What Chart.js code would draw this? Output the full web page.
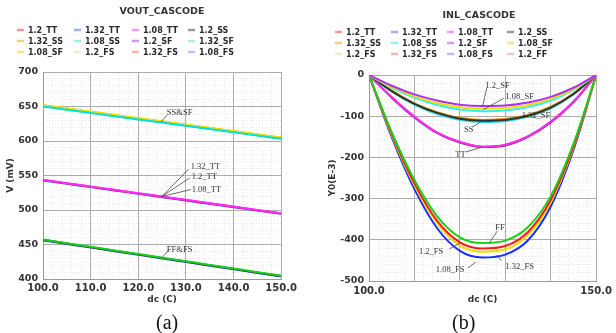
<!DOCTYPE html>
<html><head><meta charset="utf-8">
<script src="https://cdn.jsdelivr.net/npm/chart.js@4"></script>
<style>
html,body{margin:0;padding:0;background:#fff;}
#wrap{position:relative;width:616px;height:333px;overflow:hidden;background:#fff;}
#cA{position:absolute;left:0;top:0;}
#cB{position:absolute;left:300px;top:0;}
.cap{position:absolute;top:310px;font-family:"Liberation Serif","Times New Roman",serif;font-size:20px;color:#111;line-height:24px;}
</style></head>
<body><div id="wrap">
<canvas id="cA" width="300" height="333"></canvas>
<canvas id="cB" width="316" height="333"></canvas>
<div class="cap" style="left:156px">(a)</div>
<div class="cap" style="left:452px">(b)</div>
</div>
<script>
// ---------- (a) VOUT_CASCODE ----------
const voutTitle = 'VOUT_CASCODE';
const voutDc = [100,105,110,115,120,125,130,135,140,145,150];
const voutLegend = ['1.2_TT','1.32_TT','1.08_TT','1.2_SS','1.32_SS','1.08_SS','1.2_SF','1.32_SF','1.08_SF','1.2_FS','1.32_FS','1.08_FS'];
const vout_1_2_TT  = [543.5,538.6,533.8,528.9,524.1,519.2,514.4,509.5,504.7,499.8,495.0];
const vout_1_32_TT = [542.9,538.0,533.2,528.3,523.5,518.6,513.8,508.9,504.1,499.2,494.4];
const vout_1_08_TT = [543.8,538.9,534.1,529.2,524.4,519.5,514.7,509.8,505.0,500.1,495.3];
const vout_1_2_SS  = [651.0,646.3,641.6,636.9,632.2,627.6,622.9,618.2,613.5,608.8,604.0];
const vout_1_32_SS = [651.6,646.9,642.2,637.5,632.8,628.2,623.5,618.8,614.1,609.4,604.6];
const vout_1_08_SS = [650.1,645.4,640.7,636.0,631.3,626.7,622.0,617.3,612.6,607.9,603.1];
const vout_1_2_SF  = [651.3,646.6,641.9,637.2,632.5,627.9,623.2,618.5,613.8,609.1,604.3];
const vout_1_32_SF = [650.6,645.9,641.2,636.5,631.8,627.2,622.5,617.8,613.1,608.4,603.6];
const vout_1_08_SF = [652.0,647.3,642.6,637.9,633.2,628.6,623.9,619.2,614.5,609.8,605.0];
const vout_1_2_FS  = [457.2,451.9,446.7,441.4,436.2,430.9,425.7,420.4,415.2,409.9,404.7];
const vout_1_32_FS = [456.7,451.4,446.2,440.9,435.7,430.4,425.2,419.9,414.7,409.4,404.2];
const vout_1_08_FS = [456.1,450.8,445.6,440.3,435.1,429.8,424.6,419.3,414.1,408.8,403.6];
const voutYTicks = [400,450,500,550,600,650,700];

// ---------- (b) INL_CASCODE ----------
const inlTitle = 'INL_CASCODE';
const inlDc = [100,105,110,115,120,125,130,135,140,145,150];
const inlLegend = ['1.2_TT','1.32_TT','1.08_TT','1.2_SS','1.32_SS','1.08_SS','1.2_SF','1.08_SF','1.2_FS','1.32_FS','1.08_FS','1.2_FF'];
const inl_1_2_SF  = [0,-26,-47,-62,-72,-75,-74,-67,-53,-31,0];
const inl_1_08_SF = [0,-29,-52,-68,-78,-82,-80,-73,-58,-34,0];
const inl_1_08_SS = [0,-31,-55,-73,-84,-88,-86,-78,-62,-36,0];
const inl_1_32_SS = [0,-38,-69,-90,-104,-109,-107,-97,-77,-45,0];
const inl_1_2_SS  = [0,-39,-70,-92,-106,-111,-109,-99,-79,-46,0];
const inl_1_32_SF = [0,-40,-72,-95,-109,-114,-112,-101,-81,-47,0];
const inl_1_2_TT  = [0,-54,-102,-140,-163,-174,-170,-149,-114,-65,0];
const inl_1_32_TT = [0,-55,-103,-141,-164,-175,-171,-150,-115,-66,0];
const inl_1_08_TT = [0,-54,-101,-140,-162,-174,-169,-149,-113,-65,0];
const inl_1_2_FF  = [0,-139,-255,-343,-394,-408,-402,-369,-294,-167,0];
const inl_1_32_FS = [0,-143,-263,-354,-406,-421,-415,-381,-303,-173,0];
const inl_1_2_FS  = [0,-146,-268,-360,-414,-429,-423,-388,-309,-176,0];
const inl_1_08_FS = [0,-151,-277,-372,-427,-443,-436,-401,-319,-182,0];
const inlYTicks = [-500,-400,-300,-200,-100,0];

// ---------- styling ----------
const legendPale = {
  '1.2_TT':'#f39a9a','1.32_TT':'#a4acf0','1.08_TT':'#f49af0','1.2_SS':'#9a9a9a',
  '1.32_SS':'#f7cf7e','1.08_SS':'#98f2f2','1.2_SF':'#d29af0','1.32_SF':'#aef0d6',
  '1.08_SF':'#f2e68a','1.2_FS':'#ecefc4','1.32_FS':'#f6b4ac','1.08_FS':'#bcbcf6','1.2_FF':'#f6b8ee'
};
const TICKFONT = {family:'DejaVu Sans', weight:'bold', size:10};
const MAJOR = '#acacac', MINOR = '#e6e6e6';

function mk(x, y, label, color, w){
  return {label, data: x.map((v,i)=>({x:v, y:y[i]})), borderColor:color, backgroundColor:color,
    borderWidth:w||2, pointRadius:0, fill:false, cubicInterpolationMode:'monotone', xAxisID:'x', yAxisID:'y'};
}

function decoPlugin(cfg){
  return {
    id:'deco',
    afterDraw(chart){
      const ctx = chart.ctx, xs = chart.scales.x, ys = chart.scales.y;
      ctx.save();
      ctx.fillStyle = '#333';
      ctx.font = 'bold 9.5px "DejaVu Sans"';
      ctx.textAlign = 'center'; ctx.textBaseline = 'middle';
      ctx.fillText(cfg.title, cfg.titleX, cfg.titleY);
      ctx.font = 'bold 8px "DejaVu Sans"';
      ctx.textAlign = 'left';
      cfg.legend.forEach((name,i)=>{
        const c = i%4, r = Math.floor(i/4);
        const sx = cfg.lx[c], sy = cfg.ly + r*cfg.lh;
        ctx.strokeStyle = legendPale[name]; ctx.lineWidth = 2.5;
        ctx.beginPath(); ctx.moveTo(sx, sy); ctx.lineTo(sx+7, sy); ctx.stroke();
        ctx.fillStyle = '#2a2a2a';
        ctx.fillText(name, sx+11, sy+0.5);
      });
      ctx.font = '8.5px "Liberation Serif"';
      ctx.fillStyle = '#333'; ctx.strokeStyle = '#444'; ctx.lineWidth = 0.8;
      cfg.notes.forEach(n=>{
        ctx.fillText(n.t, xs.getPixelForValue(n.x), ys.getPixelForValue(n.y));
        (n.l||[]).forEach(s=>{
          ctx.beginPath();
          ctx.moveTo(xs.getPixelForValue(s[0]), ys.getPixelForValue(s[1]));
          ctx.lineTo(xs.getPixelForValue(s[2]), ys.getPixelForValue(s[3]));
          ctx.stroke();
        });
      });
      ctx.restore();
    }
  };
}

function scalesFor(o){
  return {
    xm:{type:'linear', min:100, max:150, position:'bottom', z:-1,
        ticks:{display:false, stepSize:2}, grid:{color:MINOR, drawTicks:false},
        border:{display:false, dash:[1,2]}, afterFit:s=>{s.height=0;}},
    ym:{type:'linear', min:o.ymin, max:o.ymax, position:'left', z:-1,
        ticks:{display:false, stepSize:o.yminor}, grid:{color:MINOR, drawTicks:false},
        border:{display:false, dash:[1,2]}, afterFit:s=>{s.width=0;}},
    x:{type:'linear', min:100, max:150, position:'bottom',
       afterBuildTicks:s=>{s.ticks=[100,110,120,130,140,150].map(v=>({value:v}));},
       ticks:{font:TICKFONT, color:'#333', padding:o.xpad, maxRotation:0, autoSkip:false,
              callback:o.xcb},
       grid:{color:MAJOR, drawTicks:false}, border:{display:true, color:'#999'},
       title:{display:true, text:'dc (C)', color:'#333', font:{family:'DejaVu Sans', weight:'bold', size:9}, padding:{top:0,bottom:4}},
       afterFit:s=>{s.height=o.xh;}},
    y:{type:'linear', min:o.ymin, max:o.ymax, position:'left',
       afterBuildTicks:s=>{s.ticks=o.yticks.map(v=>({value:v}));},
       ticks:{font:{family:'DejaVu Sans', weight:'bold', size:9.5}, color:'#333', padding:5},
       grid:{color:MAJOR, drawTicks:false}, border:{display:true, color:'#999'},
       title:{display:true, text:o.ytitle, color:'#333', font:{family:'DejaVu Sans', weight:'bold', size:9}, padding:{top:0,bottom:0}, align:o.yalign||'center'},
       afterFit:s=>{s.width=o.yw;}}
  };
}

// ---------- chart (a) ----------
const dsA = [
  mk(voutDc, vout_1_08_SS, '1.08_SS', '#00dede'),
  mk(voutDc, vout_1_08_SF, '1.08_SF', '#f2e000'),
  mk(voutDc, vout_1_32_SS, '1.32_SS', '#ffa000'),
  mk(voutDc, vout_1_2_SF,  '1.2_SF',  '#b030f0'),
  mk(voutDc, vout_1_32_SF, '1.32_SF', '#40e0b0'),
  mk(voutDc, vout_1_2_SS,  '1.2_SS',  '#303030'),
  mk(voutDc, vout_1_08_TT, '1.08_TT', '#ff2aff'),
  mk(voutDc, vout_1_2_TT,  '1.2_TT',  '#ff2020'),
  mk(voutDc, vout_1_32_TT, '1.32_TT', '#3040ff'),
  mk(voutDc, vout_1_2_FS,  '1.2_FS',  '#18d018'),
  mk(voutDc, vout_1_32_FS, '1.32_FS', '#303030'),
  mk(voutDc, vout_1_08_FS, '1.08_FS', '#3050ff')
];
new Chart(document.getElementById('cA'), {
  type:'line',
  data:{datasets:dsA},
  options:{
    responsive:false, animation:false, devicePixelRatio:1,
    layout:{padding:{left:5, right:17, top:72, bottom:24}},
    plugins:{legend:{display:false}, tooltip:{enabled:false}, title:{display:false}},
    scales:scalesFor({ymin:400, ymax:700, yminor:10, yticks:voutYTicks, ytitle:'V (mV)', yw:38, xh:30, xpad:3,
      xcb:v=>Number(v).toFixed(1)})
  },
  plugins:[decoPlugin({
    title:voutTitle, titleX:162, titleY:12,
    legend:voutLegend, lx:[17,74,132,188], ly:30, lh:11,
    notes:[
      {t:'SS&SF', x:126.0, y:640.5, l:[[124.8,627.8,126.0,637.5]]},
      {t:'1.32_TT', x:131.0, y:562.5, l:[[125.0,519.8,130.6,559.5]]},
      {t:'1.2_TT',  x:131.2, y:548.0, l:[[125.0,519.8,130.8,546.5]]},
      {t:'1.08_TT', x:131.2, y:529.0, l:[[125.0,519.8,131.0,529.5]]},
      {t:'FF&FS', x:126.0, y:442.5, l:[[125.0,431.0,126.5,443.0]]}
    ]
  })]
});

// ---------- chart (b) ----------
const dsB = [
  mk(inlDc, inl_1_2_SF,  '1.2_SF',  '#b030f0'),
  mk(inlDc, inl_1_08_SF, '1.08_SF', '#f0dc00'),
  mk(inlDc, inl_1_08_SS, '1.08_SS', '#30f0f0'),
  mk(inlDc, inl_1_2_SS,  '1.2_SS',  '#303030'),
  mk(inlDc, inl_1_32_SS, '1.32_SS', '#e89000'),
  mk(inlDc, inl_1_32_SF, '1.32_SF', '#20e0e0'),
  mk(inlDc, inl_1_08_TT, '1.08_TT', '#ff2aff'),
  mk(inlDc, inl_1_2_TT,  '1.2_TT',  '#ff2020'),
  mk(inlDc, inl_1_32_TT, '1.32_TT', '#3040ff'),
  mk(inlDc, inl_1_2_FF,  '1.2_FF',  '#18d018'),
  mk(inlDc, inl_1_32_FS, '1.32_FS', '#ff1a1a'),
  mk(inlDc, inl_1_2_FS,  '1.2_FS',  '#f0dc00'),
  mk(inlDc, inl_1_08_FS, '1.08_FS', '#1830ff')
];
new Chart(document.getElementById('cB'), {
  type:'line',
  data:{datasets:dsB},
  options:{
    responsive:false, animation:false, devicePixelRatio:1,
    layout:{padding:{left:27, right:15, top:75, bottom:24}},
    plugins:{legend:{display:false}, tooltip:{enabled:false}, title:{display:false}},
    scales:scalesFor({ymin:-500, ymax:0, yminor:20, yticks:inlYTicks, ytitle:'Y0(E-3)', yw:42, xh:28, xpad:4, yalign:'center',
      xcb:v=>(v===100||v===150)?Number(v).toFixed(1):''})
  },
  plugins:[decoPlugin({
    title:inlTitle, titleX:179, titleY:16,
    legend:inlLegend, lx:[35,91,147,207], ly:32, lh:11,
    notes:[
      {t:'1.2_SF',  x:125.6, y:-27,  l:[[125.0,-77,125.9,-32]]},
      {t:'1.08_SF', x:130.0, y:-53,  l:[[125.2,-84,129.7,-56]]},
      {t:'1.32_SF', x:133.6, y:-100, l:[[129.3,-111,133.2,-102]]},
      {t:'SS',      x:120.9, y:-133, l:[[122.8,-126,125.0,-111]]},
      {t:'TT',      x:119.0, y:-194, l:[[121.3,-187,124.8,-175]]},
      {t:'FF',      x:127.8, y:-371, l:[[126.5,-408,128.2,-379]]},
      {t:'1.2_FS',  x:111.0, y:-430, l:[[117.7,-422,120.3,-406]]},
      {t:'1.32_FS', x:130.0, y:-466, l:[[129.1,-451,128.2,-437]]},
      {t:'1.08_FS', x:114.7, y:-473, l:[[121.8,-468,123.5,-454]]}
    ]
  })]
});
</script>
</body></html>
